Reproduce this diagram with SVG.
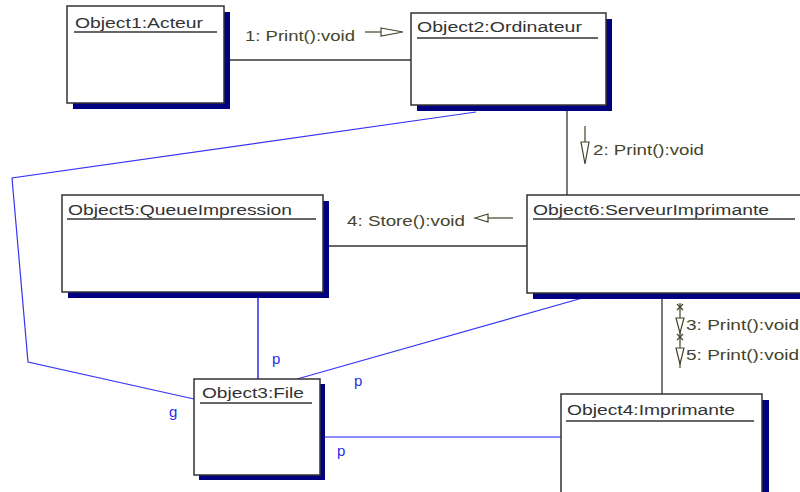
<svg xmlns="http://www.w3.org/2000/svg" width="800" height="492" viewBox="0 0 800 492">
<style>
.box{fill:#fff;stroke:#333;stroke-width:1.5}
.shadow{fill:#000080}
.title{font-family:"Liberation Sans",Arial,sans-serif;font-size:15.5px;fill:#333}
.ul{stroke:#333;stroke-width:1.3}
.conn{stroke:#333;stroke-width:1.3;fill:none}
.msg{font-family:"Liberation Sans",Arial,sans-serif;font-size:15px;fill:#44442a}
.marr{stroke:#44442a;stroke-width:1.2;fill:none}
.mtri{stroke:#44442a;stroke-width:1.2;fill:#fff}
.blue{stroke:#3535f5;stroke-width:1.2;fill:none}
.lbl{font-family:"Liberation Sans",Arial,sans-serif;font-size:15px;fill:#2a2aee}
</style>
<rect width="800" height="492" fill="#fff"/>
<g id="connectors">
<line class="conn" x1="224" y1="60" x2="411" y2="60"/>
<line class="conn" x1="567" y1="105" x2="567" y2="195"/>
<line class="conn" x1="323" y1="246" x2="527" y2="246"/>
<line class="conn" x1="662" y1="293" x2="662" y2="394"/>
<polyline class="blue" points="476,112 12,178 28,362 194,399"/>
<line class="blue" x1="258" y1="297" x2="258" y2="379" style="stroke-width:1.6"/>
<line class="blue" x1="593" y1="295" x2="297" y2="379"/>
<line x1="325" y1="437" x2="561" y2="437" stroke="#8c8cff" stroke-width="2"/>
<text class="lbl" x="272" y="364">p</text>
<text class="lbl" x="354" y="386">p</text>
<text class="lbl" x="169" y="417">g</text>
<text class="lbl" x="337" y="456">p</text>
<text class="msg" x="245" y="41" textLength="110" lengthAdjust="spacingAndGlyphs">1: Print():void</text>
<line class="marr" x1="365" y1="32" x2="381" y2="32"/>
<polygon class="mtri" points="381,28 403,32 381,36"/>
<text class="msg" x="593" y="155" textLength="111" lengthAdjust="spacingAndGlyphs">2: Print():void</text>
<line class="marr" x1="585" y1="126" x2="585" y2="142"/>
<polygon class="mtri" points="581,142 589,142 585,164"/>
<text class="msg" x="347" y="226" textLength="118" lengthAdjust="spacingAndGlyphs">4: Store():void</text>
<polygon class="mtri" points="475,218 488,214 488,222"/>
<line class="marr" x1="488" y1="218" x2="513" y2="218"/>
<line class="marr" x1="680" y1="303" x2="680" y2="368"/>
<path class="marr" d="M677,304 L683,310 M683,304 L677,310 M677,334 L683,340 M683,334 L677,340"/>
<polygon class="mtri" points="676,318 684,318 680,333"/>
<polygon class="mtri" points="676,348 684,348 680,364"/>
<text class="msg" x="686" y="330" textLength="113" lengthAdjust="spacingAndGlyphs">3: Print():void</text>
<text class="msg" x="686" y="360" textLength="113" lengthAdjust="spacingAndGlyphs">5: Print():void</text>
</g>
<g id="object1">
<rect class="shadow" x="73" y="12" width="157" height="97"/>
<rect class="box" x="67" y="6" width="157" height="97"/>
<text class="title" x="75" y="28" textLength="128" lengthAdjust="spacingAndGlyphs">Object1:Acteur</text>
<line class="ul" x1="74" y1="32" x2="217" y2="32"/>
</g>
<g id="object2">
<rect class="shadow" x="417" y="19" width="195" height="92"/>
<rect class="box" x="411" y="13" width="195" height="92"/>
<text class="title" x="417" y="32" textLength="165" lengthAdjust="spacingAndGlyphs">Object2:Ordinateur</text>
<line class="ul" x1="417" y1="38" x2="598" y2="38"/>
</g>
<g id="object6">
<rect class="shadow" x="533" y="201" width="280" height="98"/>
<rect class="box" x="527" y="195" width="280" height="98"/>
<text class="title" x="533" y="215" textLength="236" lengthAdjust="spacingAndGlyphs">Object6:ServeurImprimante</text>
<line class="ul" x1="533" y1="219" x2="795" y2="219"/>
</g>
<g id="object5">
<rect class="shadow" x="68" y="201" width="261" height="97"/>
<rect class="box" x="62" y="195" width="261" height="97"/>
<text class="title" x="68" y="215" textLength="224" lengthAdjust="spacingAndGlyphs">Object5:QueueImpression</text>
<line class="ul" x1="67" y1="219" x2="316" y2="219"/>
</g>
<g id="object3">
<rect class="shadow" x="199" y="384" width="126" height="96"/>
<rect class="box" x="194" y="379" width="126" height="96"/>
<text class="title" x="202" y="398" textLength="102" lengthAdjust="spacingAndGlyphs">Object3:File</text>
<line class="ul" x1="200" y1="403" x2="312" y2="403"/>
</g>
<g id="object4">
<rect class="shadow" x="568" y="400" width="201" height="110"/>
<rect class="box" x="561" y="394" width="201" height="110"/>
<text class="title" x="567" y="415" textLength="168" lengthAdjust="spacingAndGlyphs">Object4:Imprimante</text>
<line class="ul" x1="566" y1="421" x2="754" y2="421"/>
</g>
</svg>
